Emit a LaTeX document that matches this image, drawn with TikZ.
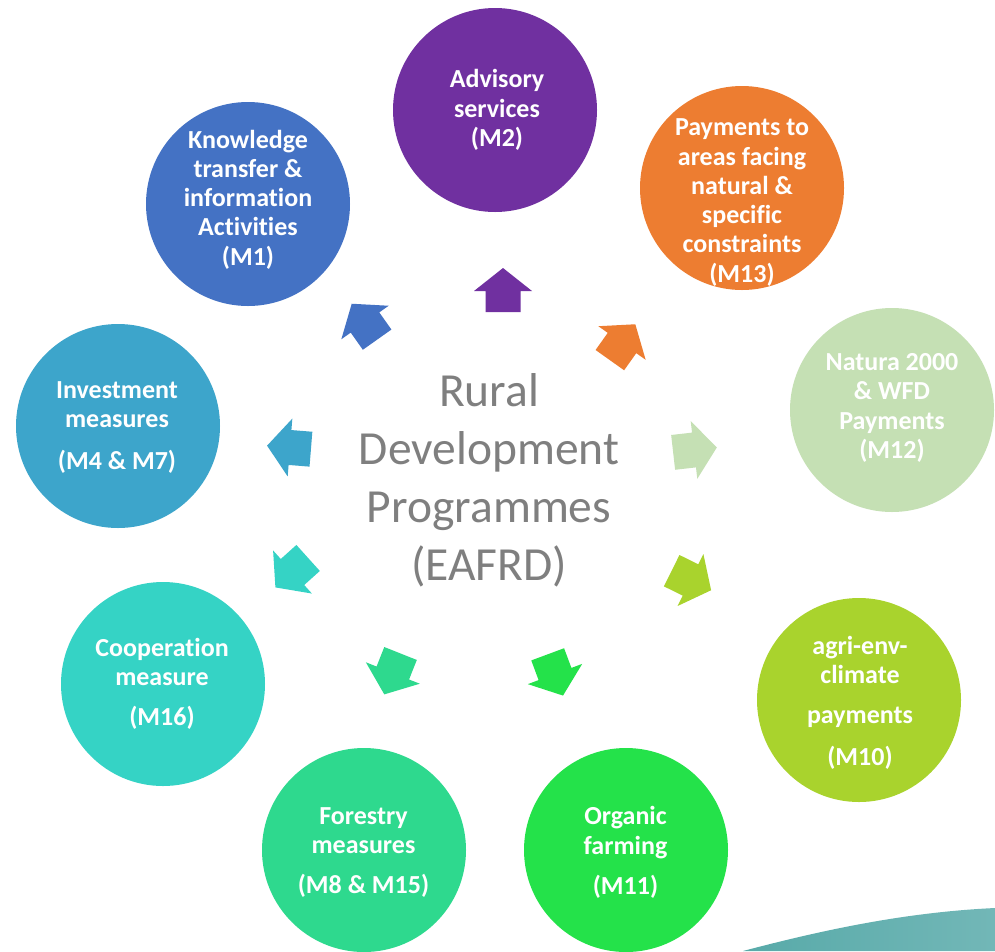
\documentclass[tikz,border=0pt]{standalone}
\usepackage{fontspec}
\setmainfont{Carlito}[Ligatures=NoCommon]
\definecolor{cMone}{HTML}{4472C4}
\definecolor{cMtwo}{HTML}{7030A0}
\definecolor{cMthirteen}{HTML}{ED7D31}
\definecolor{cMtwelve}{HTML}{C5E0B4}
\definecolor{cMfour}{HTML}{3DA5CB}
\definecolor{cMten}{HTML}{A9D32D}
\definecolor{cMsixteen}{HTML}{35D3C5}
\definecolor{cMeight}{HTML}{2ED98E}
\definecolor{cMeleven}{HTML}{24E24A}
\definecolor{ctitle}{HTML}{7F7F7F}
\definecolor{swooshL}{HTML}{58AAA9}
\definecolor{swooshR}{HTML}{72B7B7}
\tikzset{
  circ/.style={circle, minimum size=204pt, inner sep=0pt, draw=none},
  lbl/.style={text=white, font=\bfseries\fontsize{26}{29.3}\selectfont, align=center, inner sep=0pt},
  title/.style={text=ctitle, font=\fontsize{47.5}{58}\selectfont, align=center, inner sep=0pt},
  blockarrow/.pic={\fill[#1] (-21,-17.5) -- (0,-17.5) -- (0,-29) -- (23,0) -- (0,29) -- (0,17.5) -- (-21,17.5) -- cycle;}
}
\begin{document}
\begin{tikzpicture}[x=1pt,y=-1pt]
\useasboundingbox (0,0) rectangle (995,951);
\fill[white] (0,0) rectangle (995,951);
% swoosh
\shade[left color=swooshL, right color=swooshR] (743,951) .. controls (830,928) and (910,912) .. (995,908) -- (995,951) -- cycle;
% circles
\node[circ, fill=cMtwo] (m2) at (495,110) {};
\node[circ, fill=cMone] (m1) at (248,204) {};
\node[circ, fill=cMthirteen] (m13) at (742,188) {};
\node[circ, fill=cMtwelve] (m12) at (892,410) {};
\node[circ, fill=cMfour] (m4) at (118,426) {};
\node[circ, fill=cMten] (m10) at (859,700) {};
\node[circ, fill=cMsixteen] (m16) at (163,684) {};
\node[circ, fill=cMeight] (m8) at (364,850) {};
\node[circ, fill=cMeleven] (m11) at (626,850) {};
% labels
\node[lbl] (t2) at (497,110) {Advisory\\services\\(M2)};
\node[lbl] (t1) at (248,199.5) {Knowledge\\transfer \&\\information\\Activities\\(M1)};
\node[lbl] (t13) at (742,202.5) {Payments to\\areas facing\\natural \&\\specific\\constraints\\(M13)};
\node[lbl] (t12) at (892,408) {Natura 2000\\\& WFD\\Payments\\(M12)};
\node[lbl] (t4) at (117,427.5) {Investment\\measures\\[13pt](M4 \& M7)};
\node[lbl] (t10) at (860,702.5) {agri-env-\\climate\\[11pt]payments\\[12pt](M10)};
\node[lbl] (t16) at (162,684) {Cooperation\\measure\\[11pt](M16)};
\node[lbl] (t8) at (363.5,852.5) {Forestry\\measures\\[11pt](M8 \& M15)};
\node[lbl] (t11) at (625.5,852.5) {Organic\\farming\\[11pt](M11)};
% centre title
\node[title] (rdp) at (489,480) {Rural\\Development\\Programmes\\(EAFRD)};
% block arrows
\pic[rotate=90] at (503,291) {blockarrow=cMtwo};
\pic[rotate=125.3] at (365,322.5) {blockarrow=cMone};
\pic[rotate=54.6] at (622,343) {blockarrow=cMthirteen};
\pic[rotate=175.4] at (290,447.5) {blockarrow=cMfour};
\pic[rotate=6.5] at (694,450) {blockarrow=cMtwelve};
\pic[rotate=222] at (292.5,572) {blockarrow=cMsixteen};
\pic[rotate=-26.4] at (690.5,580) {blockarrow=cMten};
\pic[rotate=248.3] at (392.8,673) {blockarrow=cMeight};
\pic[rotate=-69.6] at (555,674) {blockarrow=cMeleven};
\end{tikzpicture}
\end{document}
